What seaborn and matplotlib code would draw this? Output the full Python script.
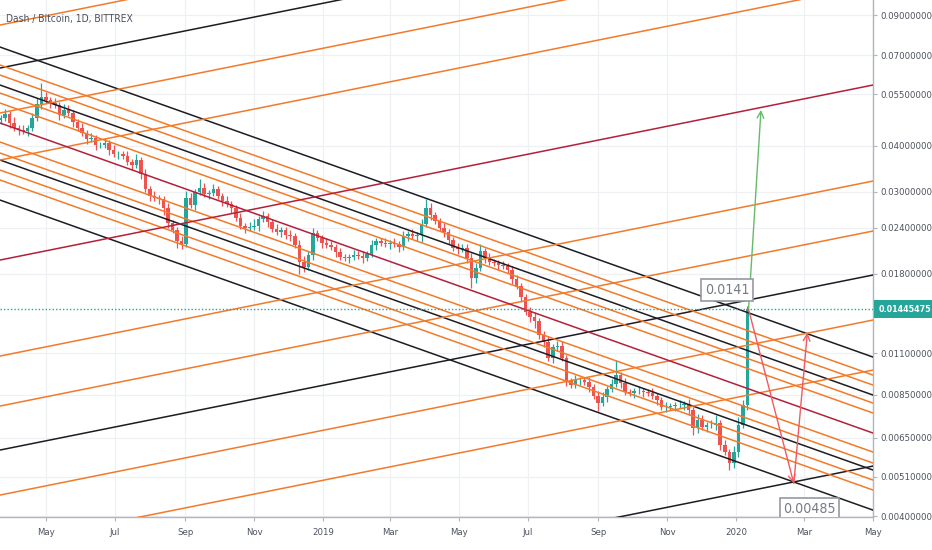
import matplotlib
matplotlib.use("Agg")
import matplotlib.pyplot as plt
import matplotlib.ticker as mticker
from matplotlib import font_manager
import numpy as np
import pandas as pd
import seaborn as sns

# --- price data, 4-day candles (DASH/BTC) ---
start_date = "2018-03-22"
first_open = 0.0470
close = [0.0474, 0.0486, 0.0460, 0.0446, 0.0440, 0.0438, 0.0446, 0.0474, 0.0518, 0.0541,
         0.0531, 0.0521, 0.0514, 0.0483, 0.0499, 0.0489, 0.0463, 0.0446, 0.0432, 0.0416,
         0.0419, 0.0401, 0.0401, 0.0406, 0.0389, 0.0379, 0.0379, 0.0375, 0.0361, 0.0354,
         0.0365, 0.0335, 0.0305, 0.0292, 0.0289, 0.0287, 0.0271, 0.0247, 0.0237, 0.0221,
         0.0217, 0.0289, 0.0276, 0.0300, 0.0307, 0.0296, 0.0298, 0.0305, 0.0292, 0.0283,
         0.0278, 0.0271, 0.0255, 0.0243, 0.0240, 0.0241, 0.0243, 0.0253, 0.0258, 0.0249,
         0.0238, 0.0234, 0.0237, 0.0229, 0.0228, 0.0216, 0.0194, 0.0188, 0.0203, 0.0232,
         0.0225, 0.0218, 0.0216, 0.0213, 0.0206, 0.0200, 0.0199, 0.0200, 0.0203, 0.0201,
         0.0199, 0.0204, 0.0216, 0.0221, 0.0218, 0.0217, 0.0218, 0.0217, 0.0213, 0.0228,
         0.0231, 0.0228, 0.0229, 0.0246, 0.0271, 0.0260, 0.0250, 0.0240, 0.0234, 0.0222,
         0.0212, 0.0210, 0.0212, 0.0199, 0.0176, 0.0187, 0.0208, 0.0199, 0.0194, 0.0193,
         0.0190, 0.0189, 0.0185, 0.0174, 0.0167, 0.0156, 0.0142, 0.0138, 0.0134, 0.0123,
         0.0118, 0.0107, 0.0114, 0.0115, 0.0107, 0.00925, 0.00903, 0.00931, 0.00931, 0.00920,
         0.00891, 0.00843, 0.00807, 0.00838, 0.00880, 0.00908, 0.00961, 0.00914, 0.00864, 0.00859,
         0.00870, 0.00870, 0.00864, 0.00859, 0.00843, 0.00822, 0.00787, 0.00787, 0.00792, 0.00797,
         0.00797, 0.00802, 0.00773, 0.00691, 0.00726, 0.00695, 0.00704, 0.00704, 0.00713, 0.00622,
         0.00595, 0.00556, 0.00595, 0.00704, 0.00797, 0.01445475]
# wick sizes above / below the body, in percent
wick_up = [2, 3, 2, 4, 2, 3, 2, 3, 4, 9, 3, 2, 3, 2, 4, 3, 2, 2, 3, 2,
           3, 2, 2, 3, 2, 3, 2, 2, 3, 2, 4, 2, 3, 2, 3, 2, 2, 3, 2, 2,
           3, 4, 3, 2, 6, 3, 2, 3, 2, 2, 3, 2, 2, 3, 2, 3, 4, 2, 3, 2,
           2, 3, 2, 2, 3, 2, 3, 4, 2, 3, 2, 2, 3, 2, 2, 3, 2, 2, 3, 2,
           3, 2, 3, 2, 2, 3, 2, 3, 2, 3, 2, 3, 2, 3, 6, 3, 2, 2, 3, 2,
           2, 3, 2, 2, 3, 3, 4, 2, 3, 2, 2, 3, 2, 2, 3, 2, 2, 3, 3, 2,
           3, 4, 2, 3, 3, 2, 2, 3, 2, 2, 3, 2, 3, 3, 2, 3, 10, 2, 3, 2,
           2, 3, 2, 2, 3, 2, 2, 3, 2, 2, 3, 2, 3, 2, 4, 3, 2, 3, 5, 2,
           3, 2, 4, 5, 3, 2]
wick_dn = [3, 2, 3, 2, 3, 2, 3, 2, 2, 3, 2, 3, 2, 3, 2, 2, 3, 2, 2, 3,
           2, 3, 2, 2, 3, 2, 3, 2, 2, 3, 2, 3, 2, 3, 2, 3, 4, 3, 2, 4,
           3, 2, 2, 3, 2, 2, 3, 2, 2, 3, 2, 3, 2, 2, 3, 2, 2, 3, 2, 3,
           2, 2, 3, 2, 3, 2, 7, 3, 2, 3, 2, 3, 2, 2, 3, 2, 2, 3, 2, 2,
           3, 2, 2, 3, 2, 2, 3, 2, 3, 2, 3, 2, 3, 4, 2, 3, 2, 2, 3, 2,
           2, 3, 2, 3, 6, 3, 2, 3, 2, 2, 3, 2, 2, 3, 2, 3, 2, 3, 4, 2,
           3, 2, 3, 2, 2, 3, 2, 2, 3, 2, 3, 2, 5, 2, 3, 2, 2, 3, 2, 2,
           3, 2, 3, 2, 2, 3, 2, 3, 2, 3, 2, 3, 3, 4, 3, 2, 3, 2, 3, 3,
           2, 4, 3, 3, 2, 3]
last_price = 0.01445475

# --- trend lines drawn on the chart: price at the left and right chart edge ---
line_start = "2018-03-21 12:00"
line_end = "2020-05-01"
desc_left = [0.07376, 0.06596, 0.06198, 0.05825, 0.05542, 0.05209, 0.04600,
             0.04087, 0.03818, 0.03655, 0.03434, 0.03228, 0.02850]
desc_right = [0.010742, 0.009606, 0.009026, 0.008483, 0.008071, 0.007586, 0.006699,
              0.005952, 0.005560, 0.005323, 0.005001, 0.004701, 0.004150]
desc_kind = ["black", "orange", "orange", "black", "orange", "orange", "red",
             "orange", "orange", "black", "orange", "orange", "black"]
asc_left = [0.08457, 0.06474, 0.04895, 0.03655, 0.01963, 0.01081, 0.007923,
            0.006028, 0.004557, 0.003340, 0.001839]
asc_right = [0.2509, 0.1921, 0.14525, 0.10845, 0.05825, 0.032075, 0.02351,
             0.017887, 0.013522, 0.009910, 0.005457]
asc_kind = ["orange", "black", "orange", "orange", "red", "orange", "orange",
            "black", "orange", "orange", "black"]

# projected path (arrows)
arrow_dates = ["2020-01-12", "2020-01-23", "2020-02-21", "2020-03-04"]
arrow_prices = [0.01445475, 0.0499, 0.0049, 0.0125]

y_ticks = [0.004, 0.0051, 0.0065, 0.0085, 0.011, 0.018, 0.024, 0.03, 0.04, 0.055, 0.07, 0.09]
x_ticks = ["2018-05-01", "2018-07-01", "2018-09-01", "2018-11-01", "2019-01-01", "2019-03-01",
           "2019-05-01", "2019-07-01", "2019-09-01", "2019-11-01", "2020-01-01", "2020-03-01",
           "2020-05-01"]
x_labels = ["May", "Jul", "Sep", "Nov", "2019", "Mar", "May", "Jul", "Sep", "Nov", "2020", "Mar", "May"]

GREEN = "#26a69a"
RED = "#ef5350"
ORANGE = "#f27a2a"
BLACK = "#1c1c22"
CRIMSON = "#b3203a"
TEXT = "#4c525e"

sns.set_theme(style="white")

# narrow font if one is installed, otherwise a smaller regular one
ttf = font_manager.fontManager.ttflist
names = {f.name for f in ttf}
cond = any(f.name == "DejaVu Sans" and str(f.stretch) in ("condensed", "semi-condensed", "500", "600")
           for f in ttf)
if "Liberation Sans Narrow" in names:
    FONT, STRETCH, FS, FS_BOLD, FS_TITLE = "Liberation Sans Narrow", "normal", 8.6, 8.2, 9.2
elif cond:
    FONT, STRETCH, FS, FS_BOLD, FS_TITLE = "DejaVu Sans", "condensed", 6.8, 6.4, 7.4
else:
    FONT, STRETCH, FS, FS_BOLD, FS_TITLE = "Liberation Sans", "normal", 6.9, 6.6, 7.6
plt.rcParams["font.family"] = [FONT, "DejaVu Sans"]
plt.rcParams["font.stretch"] = STRETCH

fig = plt.figure(figsize=(9.32, 5.5), dpi=100)
ax = fig.add_axes([0, 33 / 550, 873 / 932, 517 / 550])

# candles
df = pd.DataFrame({"date": pd.date_range(start_date, periods=len(close), freq="4D"),
                   "close": close})
df["open"] = df["close"].shift(1).fillna(first_open)
body_top = df[["open", "close"]].max(axis=1)
body_bot = df[["open", "close"]].min(axis=1)
df["high"] = body_top * (1 + np.array(wick_up) / 100)
df["low"] = body_bot * (1 - np.array(wick_dn) / 100)
cols = np.where(df["close"] >= df["open"], GREEN, RED)

# trend lines via seaborn
rows = []
k = 0
for lefts, rights, kinds in [(desc_left, desc_right, desc_kind), (asc_left, asc_right, asc_kind)]:
    for l, r, c in zip(lefts, rights, kinds):
        rows.append({"line": k, "date": pd.Timestamp(line_start), "price": l, "kind": c})
        rows.append({"line": k, "date": pd.Timestamp(line_end), "price": r, "kind": c})
        k += 1
lines = pd.DataFrame(rows)
sns.lineplot(data=lines, x="date", y="price", hue="kind", units="line", estimator=None,
             palette={"orange": ORANGE, "black": BLACK, "red": CRIMSON},
             linewidth=1.1, legend=False, sort=False, ax=ax, zorder=3)

ax.vlines(df["date"], df["low"], df["high"], colors=cols, linewidth=0.9, zorder=2)
ax.bar(df["date"], body_top - body_bot, bottom=body_bot, width=3.1, color=cols,
       linewidth=0, zorder=2)

ax.set_yscale("log")
ax.set_xlim(pd.Timestamp(line_start), pd.Timestamp(line_end))
ax.set_ylim(0.003976, 0.0988)

# current price line
ax.axhline(last_price, color=GREEN, linestyle=(0, (1, 1.5)), linewidth=1.0, zorder=4)
ax.text(1.006, last_price, f"{last_price:.8f}", transform=ax.get_yaxis_transform(),
        ha="left", va="center", color="white", fontsize=FS_BOLD, fontweight="bold",
        bbox=dict(boxstyle="square,pad=0.5", fc=GREEN, ec="none"), clip_on=False, zorder=6)

# arrows
ad = [pd.Timestamp(d) for d in arrow_dates]
ax.annotate("", xy=(ad[1], arrow_prices[1]), xytext=(ad[0], arrow_prices[0]),
            arrowprops=dict(arrowstyle="->", color="#66bb6a", lw=1.0, shrinkA=0, shrinkB=0,
                            mutation_scale=12), zorder=5)
ax.annotate("", xy=(ad[2], arrow_prices[2]), xytext=(ad[0], arrow_prices[0]),
            arrowprops=dict(arrowstyle="->", color="#f05a60", lw=1.0, shrinkA=0, shrinkB=0,
                            mutation_scale=12), zorder=5)
ax.annotate("", xy=(ad[3], arrow_prices[3]), xytext=(ad[2], arrow_prices[2]),
            arrowprops=dict(arrowstyle="->", color="#f05a60", lw=1.0, shrinkA=0, shrinkB=0,
                            mutation_scale=12), zorder=5)

box = dict(boxstyle="square,pad=0.25", fc="white", ec="#9598a1", lw=1.2)
ax.text(pd.Timestamp("2019-12-24"), 0.0163, "0.0141", ha="center", va="center",
        fontsize=FS + 3.4, color="#787b86", bbox=box, zorder=6)
ax.text(pd.Timestamp("2020-03-06"), 0.00418, "0.00485", ha="center", va="center",
        fontsize=FS + 3.4, color="#787b86", bbox=box, zorder=6, clip_on=True)

ax.text(0.007, 0.963, "Dash / Bitcoin, 1D, BITTREX", transform=ax.transAxes,
        fontsize=FS_TITLE, color=TEXT, va="center", zorder=6)

# axes styling
ax.yaxis.tick_right()
ax.yaxis.set_major_locator(mticker.FixedLocator(y_ticks))
ax.yaxis.set_major_formatter(mticker.FixedFormatter([f"{v:.8f}" for v in y_ticks]))
ax.yaxis.set_minor_locator(mticker.NullLocator())
ax.set_xticks([pd.Timestamp(d) for d in x_ticks])
ax.set_xticklabels(x_labels)
ax.tick_params(axis="both", labelsize=FS, colors=TEXT, length=3, width=0.8,
               color="#b2b5be", pad=2)
ax.tick_params(axis="y", left=False, right=True)
ax.tick_params(axis="x", bottom=True, pad=5)
ax.set_xlabel("")
ax.set_ylabel("")
ax.grid(True, color="#eef0f4", linewidth=0.9, zorder=0)
ax.set_axisbelow(True)
for s in ["top", "left"]:
    ax.spines[s].set_visible(False)
for s in ["right", "bottom"]:
    ax.spines[s].set_color("#b2b5be")
    ax.spines[s].set_linewidth(1.0)

fig.savefig("out.png", dpi=100)
